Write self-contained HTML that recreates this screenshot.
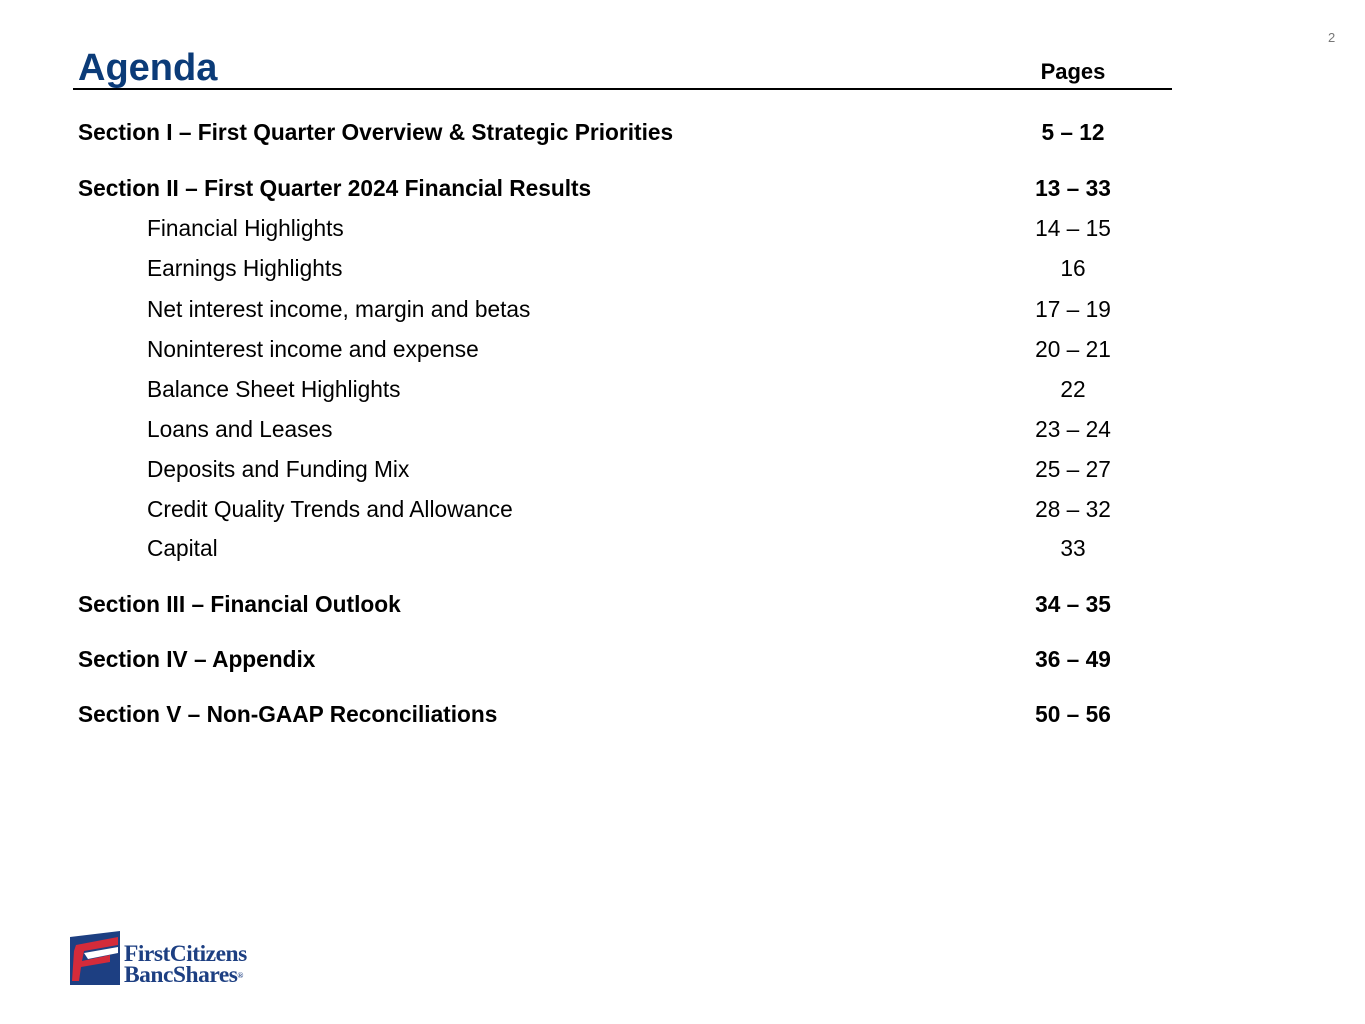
<!DOCTYPE html>
<html><head><meta charset="utf-8"><style>
body{margin:0;width:1365px;height:1024px;background:#fff;position:relative;overflow:hidden;font-family:"Liberation Sans",Arial,sans-serif;color:#000}
.a{position:absolute;white-space:nowrap;line-height:24px}
.s{font-weight:bold;font-size:22.7px;left:78px}
.i{font-size:22.7px;left:147px}
.p{left:1023px;width:100px;text-align:center;font-size:22.7px}
.b{font-weight:bold}
</style></head><body>
<div class="a" style="left:1328px;top:26px;font-size:13px;color:#777">2</div>
<div class="a" style="left:78px;top:46px;line-height:44px;font-size:38px;font-weight:bold;color:#0b3b78">Agenda</div>
<div class="a b" style="left:1023px;width:100px;text-align:center;top:60px;font-size:22px">Pages</div>
<div style="position:absolute;left:73px;top:88px;width:1099px;height:2px;background:#000"></div>

<div class="a s" style="top:120px">Section I – First Quarter Overview &amp; Strategic Priorities</div>
<div class="a p b" style="top:120px">5 – 12</div>

<div class="a s" style="top:176px">Section II – First Quarter 2024 Financial Results</div>
<div class="a p b" style="top:176px">13 – 33</div>

<div class="a i" style="top:216px">Financial Highlights</div>
<div class="a p" style="top:216px">14 – 15</div>
<div class="a i" style="top:256px">Earnings Highlights</div>
<div class="a p" style="top:256px">16</div>
<div class="a i" style="top:297px">Net interest income, margin and betas</div>
<div class="a p" style="top:297px">17 – 19</div>
<div class="a i" style="top:337px">Noninterest income and expense</div>
<div class="a p" style="top:337px">20 – 21</div>
<div class="a i" style="top:377px">Balance Sheet Highlights</div>
<div class="a p" style="top:377px">22</div>
<div class="a i" style="top:417px">Loans and Leases</div>
<div class="a p" style="top:417px">23 – 24</div>
<div class="a i" style="top:457px">Deposits and Funding Mix</div>
<div class="a p" style="top:457px">25 – 27</div>
<div class="a i" style="top:497px">Credit Quality Trends and Allowance</div>
<div class="a p" style="top:497px">28 – 32</div>
<div class="a i" style="top:536px">Capital</div>
<div class="a p" style="top:536px">33</div>

<div class="a s" style="top:592px">Section III – Financial Outlook</div>
<div class="a p b" style="top:592px">34 – 35</div>
<div class="a s" style="top:647px">Section IV – Appendix</div>
<div class="a p b" style="top:647px">36 – 49</div>
<div class="a s" style="top:702px">Section V – Non-GAAP Reconciliations</div>
<div class="a p b" style="top:702px">50 – 56</div>

<svg style="position:absolute;left:70px;top:931px" width="52" height="54" viewBox="0 0 52 54">
<polygon points="0,6 50,0 50,54 0,54" fill="#1d3f82"/>
<polygon points="6,14 48,6 48,14 14,20 12,30 40,24 40,31 11,36 9,50 2,50 4,20" fill="#d42b3a"/>
<polygon points="14,22 48,16 48,22 18,28" fill="#fff"/>
</svg>
<div class="a" style="left:124px;top:944px;font-family:'Liberation Serif',serif;font-size:23.5px;line-height:21px;color:#1d3f82;font-weight:bold;letter-spacing:-0.5px">FirstCitizens<br>BancShares<span style="font-size:8px;vertical-align:top">®</span></div>
</body></html>
